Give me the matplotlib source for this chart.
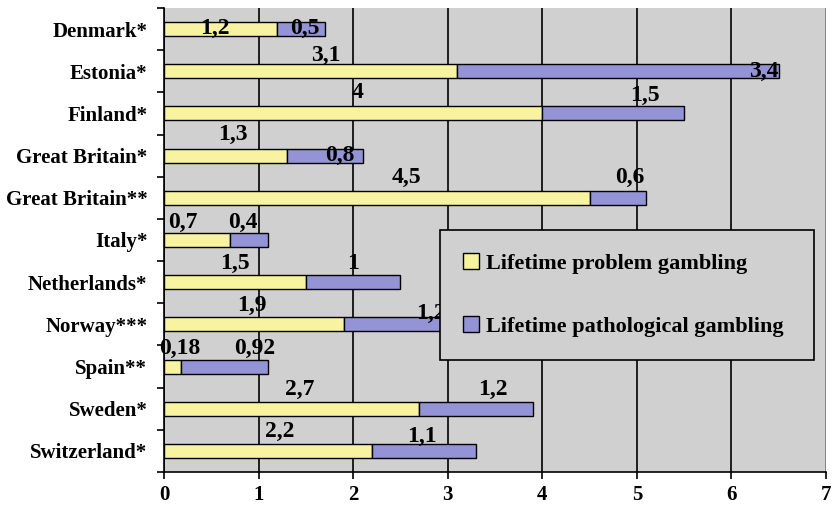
import matplotlib
matplotlib.use("Agg")
import matplotlib.pyplot as plt

categories = ["Denmark*", "Estonia*", "Finland*", "Great Britain*", "Great Britain**",
              "Italy*", "Netherlands*", "Norway***", "Spain**", "Sweden*", "Switzerland*"]
problem = [1.2, 3.1, 4, 1.3, 4.5, 0.7, 1.5, 1.9, 0.18, 2.7, 2.2]
pathological = [0.5, 3.4, 1.5, 0.8, 0.6, 0.4, 1, 1.2, 0.92, 1.2, 1.1]
problem_labels = ["1,2", "3,1", "4", "1,3", "4,5", "0,7", "1,5", "1,9", "0,18", "2,7", "2,2"]
pathological_labels = ["0,5", "3,4", "1,5", "0,8", "0,6", "0,4", "1", "1,2", "0,92", "1,2", "1,1"]
series_names = ["Lifetime problem gambling", "Lifetime pathological gambling"]
xticks = [0, 1, 2, 3, 4, 5, 6, 7]

# label offsets (pixels) from segment centres, as Excel placed them
prob_dx = [-6, 15, 4, 7, 30, -14, 0, -2, 7, 8, 12]
prob_dy = [1, 16, 21, 21, 20, 18, 19, 19, 18, 19, 19]
path_dx = [4, 146, 32, 15, 12, -6, 0, 30, 30, 17, -2]
path_dy = [1, 0, 18, 0, 20, 18, 19, 11, 18, 19, 14]

YEL = "#F7F3A1"
PUR = "#9393D6"
BG = "#D0D0D0"
SERIF = ["Liberation Serif", "DejaVu Serif"]

fig = plt.figure(figsize=(8.36, 5.07), dpi=100)
ax = fig.add_axes([164/836, 1-472/507, 662/836, 464/507])
ax.set_facecolor(BG)

n = len(categories)
ypos = list(range(n))
bh = 0.33
b1 = ax.barh(ypos, problem, height=bh, color=YEL, edgecolor="black", linewidth=1.0, zorder=3, label=series_names[0])
b2 = ax.barh(ypos, pathological, left=problem, height=bh, color=PUR, edgecolor="black", linewidth=1.0, zorder=3, label=series_names[1])

ax.set_ylim(n - 0.5, -0.5)
ax.set_xlim(0, 7)
ax.set_xticks(xticks)
ax.set_xticklabels([str(t) for t in xticks], fontsize=15, fontweight="bold", family=SERIF)
ax.set_yticks(ypos)
ax.set_yticklabels(categories, fontsize=15, fontweight="bold", family=SERIF)
ax.tick_params(axis="y", length=0, pad=12)
ax.set_yticks([i + 0.5 for i in range(-1, n)], minor=True)
ax.tick_params(axis="y", which="minor", length=5, width=1.2, direction="out")
ax.tick_params(axis="x", length=5, width=1.2, direction="out", pad=4)

ax.grid(axis="x", color="black", linewidth=1.2, zorder=1)
ax.set_axisbelow(True)
for s in ["top", "right"]:
    ax.spines[s].set_visible(False)
ax.spines["left"].set_linewidth(1.2)
ax.spines["bottom"].set_linewidth(1.2)
ax.axvline(7, color="#9a9a9a", linewidth=1.2, zorder=2)

px2pt = 72 / 100
for i in range(n):
    c1 = problem[i] / 2
    c2 = problem[i] + pathological[i] / 2
    ax.annotate(problem_labels[i], (c1, i), xytext=(prob_dx[i] * px2pt, prob_dy[i] * px2pt),
                textcoords="offset points", ha="center", va="center",
                fontsize=17, fontweight="bold", family=SERIF, zorder=5)
    ax.annotate(pathological_labels[i], (c2, i), xytext=(path_dx[i] * px2pt, path_dy[i] * px2pt),
                textcoords="offset points", ha="center", va="center",
                fontsize=17, fontweight="bold", family=SERIF, zorder=5)

leg = ax.legend(handles=[b1, b2], loc="upper left",
                bbox_to_anchor=((440-164)/662, (472-230)/464, (814-440)/662, 0.0),
                mode="expand", fancybox=False, frameon=True, framealpha=1,
                facecolor=BG, edgecolor="black", prop={"family": SERIF, "weight": "bold", "size": 16},
                handlelength=0.7, handleheight=0.7, handletextpad=0.3, labelspacing=1.9,
                borderpad=1.05, borderaxespad=0)
leg.get_frame().set_linewidth(1.2)
leg.set_zorder(6)

fig.savefig("out.png", dpi=100)
